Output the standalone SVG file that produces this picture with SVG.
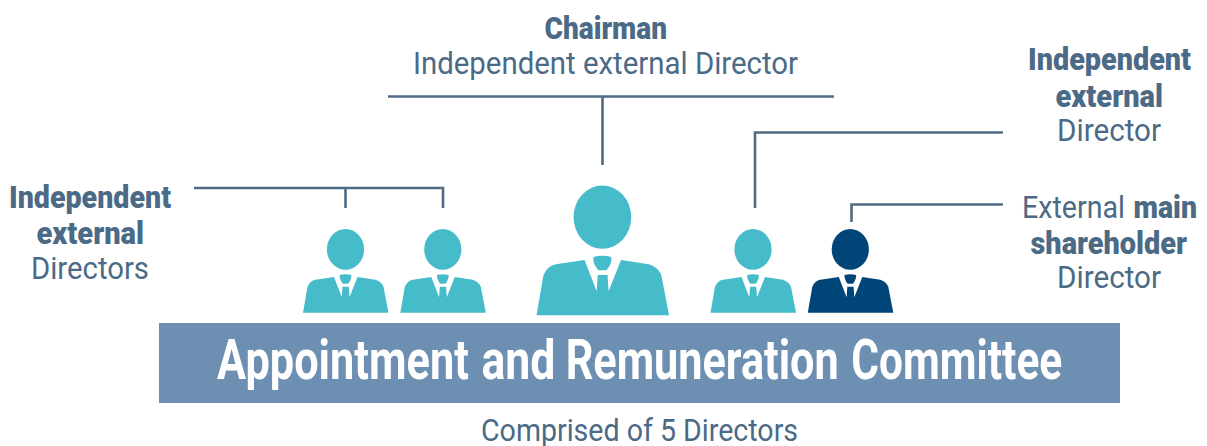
<svg xmlns="http://www.w3.org/2000/svg" xmlns:xlink="http://www.w3.org/1999/xlink" width="1207" height="446" viewBox="0 0 1207 446">
<style>
text{font-family:Roboto,"Liberation Sans",sans-serif;font-size:31px;fill:#4b6a86}
.b{font-weight:900}
.title{font-size:55px;font-weight:700;fill:#fff}
.conn{fill:none;stroke:#4f6b85;stroke-width:2.6}
.teal{fill:#46bccb}
.navy{fill:#004578}
</style>
<defs>
<g id="person">
<ellipse cx="0" cy="-63.3" rx="18.6" ry="20.4"/>
<path d="M-42.5 0L-38 -26Q-35.5 -32 -30 -33L-11.5 -35.7L-3.7 -15.5L-3 -26H3.3L4 -15.5L12 -35.7L30 -33Q36 -31 38 -26L43 0Z"/>
<path d="M-5.8 -37.6Q0 -39.2 5.8 -37.6Q6.2 -33 2.6 -29H-2.6Q-6.2 -33 -5.8 -37.6Z"/>
</g>
</defs>
<g id="connectors">
<path class="conn" d="M388 96.5H834M602.5 96.5V165"/>
<path class="conn" d="M194 188H443V208M345.5 188V208"/>
<path class="conn" d="M1003 132.5H755V208"/>
<path class="conn" d="M1003 204.5H851.5V222"/>
</g>
<g id="person-1" class="teal"><use xlink:href="#person" href="#person" x="345.5" y="312.7"/></g>
<g id="person-2" class="teal"><use xlink:href="#person" href="#person" x="442.8" y="312.7"/></g>
<g id="person-chairman" class="teal"><use xlink:href="#person" href="#person" transform="translate(602.4 315.3) scale(1.55)"/></g>
<g id="person-4" class="teal"><use xlink:href="#person" href="#person" x="753" y="312.7"/></g>
<g id="person-5" class="navy"><use xlink:href="#person" href="#person" x="850.3" y="312.7"/></g>
<g id="committee">
<rect x="159" y="323" width="961" height="80" fill="#6d8fb2"/>
<text class="title" transform="translate(217 379) scale(0.787 1)"><tspan x="0" textLength="320" lengthAdjust="spacingAndGlyphs">Appointment</tspan> <tspan x="336" textLength="94" lengthAdjust="spacingAndGlyphs">and</tspan> <tspan x="443" textLength="347" lengthAdjust="spacingAndGlyphs">Remuneration</tspan> <tspan x="806" textLength="268" lengthAdjust="spacingAndGlyphs">Committee</tspan></text>
</g>
<g id="label-chairman">
<text class="b" x="544.5" y="39" textLength="122.5" lengthAdjust="spacingAndGlyphs">Chairman</text>
<text x="413" y="74" textLength="385" lengthAdjust="spacingAndGlyphs">Independent external Director</text>
</g>
<g id="label-left">
<text class="b" x="9" y="208" textLength="162" lengthAdjust="spacingAndGlyphs">Independent</text>
<text class="b" x="36.5" y="244" textLength="107.5" lengthAdjust="spacingAndGlyphs">external</text>
<text x="31" y="279" textLength="118" lengthAdjust="spacingAndGlyphs">Directors</text>
</g>
<g id="label-right-1">
<text class="b" x="1028" y="70" textLength="163" lengthAdjust="spacingAndGlyphs">Independent</text>
<text class="b" x="1055.5" y="107" textLength="107.5" lengthAdjust="spacingAndGlyphs">external</text>
<text x="1057" y="141" textLength="104" lengthAdjust="spacingAndGlyphs">Director</text>
</g>
<g id="label-right-2">
<text y="218"><tspan x="1022" textLength="103" lengthAdjust="spacingAndGlyphs">External</tspan> <tspan class="b" x="1133.5" textLength="63.5" lengthAdjust="spacingAndGlyphs">main</tspan></text>
<text class="b" x="1030.5" y="254" textLength="156.5" lengthAdjust="spacingAndGlyphs">shareholder</text>
<text x="1057" y="288" textLength="104" lengthAdjust="spacingAndGlyphs">Director</text>
</g>
<g id="label-bottom">
<text transform="translate(481 441) scale(0.919 1)" textLength="345" lengthAdjust="spacingAndGlyphs">Comprised of 5 Directors</text>
</g>
</svg>
